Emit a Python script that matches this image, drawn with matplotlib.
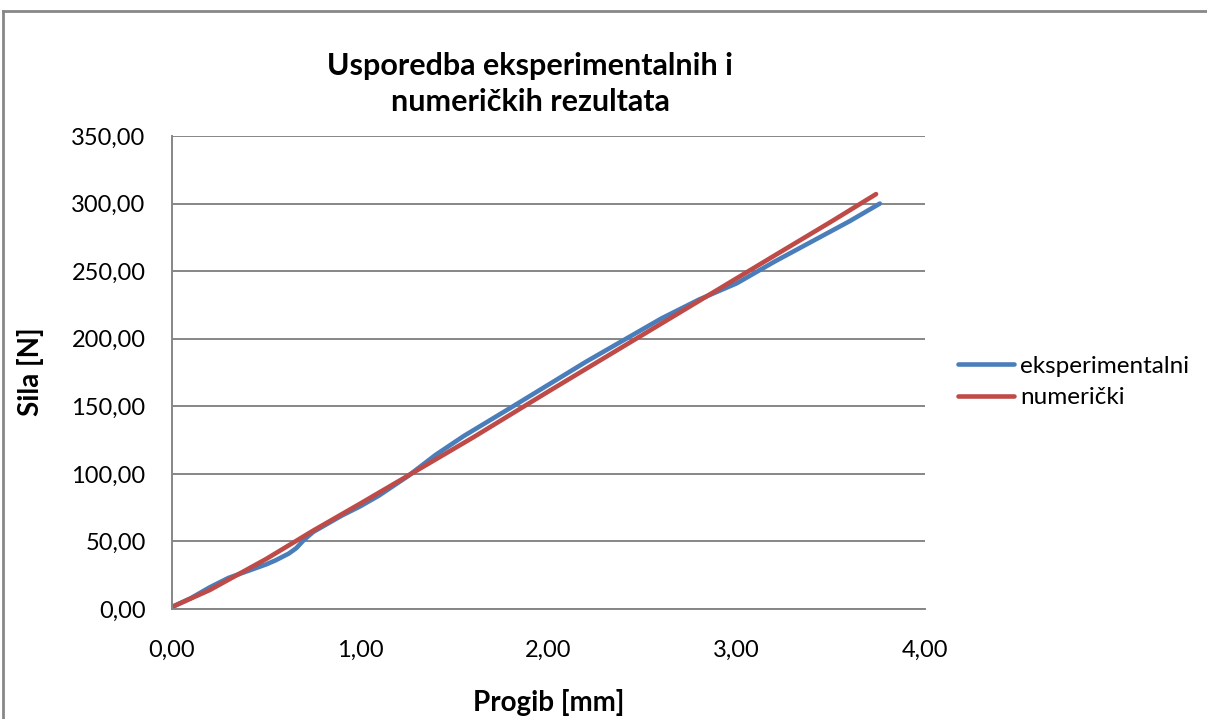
import matplotlib
matplotlib.use("Agg")
import matplotlib.pyplot as plt
from matplotlib.lines import Line2D
from matplotlib.ticker import FuncFormatter

plt.rcParams['font.family'] = ['Lato', 'DejaVu Sans']

# progib [mm] / sila [N]
exp_x = [0.00, 0.10, 0.20, 0.30, 0.40, 0.50, 0.55, 0.62, 0.66, 0.70, 0.75, 0.80,
         0.90, 1.00, 1.10, 1.25, 1.40, 1.55, 1.80, 2.00, 2.20, 2.40, 2.60, 2.70,
         2.80, 3.00, 3.20, 3.40, 3.60, 3.76]
exp_y = [1.5, 8.0, 16.0, 23.0, 28.0, 33.0, 36.0, 41.0, 45.0, 51.0, 57.0, 61.0,
         69.0, 76.0, 84.0, 98.0, 114.0, 128.0, 149.0, 166.0, 183.0, 199.0, 215.0, 222.0,
         229.0, 241.0, 257.0, 272.0, 287.0, 300.0]

num_x = [0.00, 0.20, 0.50, 0.75, 1.00, 1.27, 1.60, 2.00, 2.40, 2.80, 3.20, 3.50, 3.74]
num_y = [1.5, 14.0, 37.0, 58.0, 78.0, 100.0, 127.0, 161.0, 194.5, 228.0, 261.5, 286.5, 307.0]

xticks = [0, 1, 2, 3, 4]
yticks = [0, 50, 100, 150, 200, 250, 300, 350]

W, H = 1207, 719
fig = plt.figure(figsize=(W / 100, H / 100), dpi=100)
ax = fig.add_axes([172 / W, 1 - 609 / H, (925 - 172) / W, (609 - 136) / H])

ax.plot(exp_x, exp_y, color='#4A7EBB', lw=3.3, solid_capstyle='round',
        solid_joinstyle='round', label='eksperimentalni')
ax.plot(num_x, num_y, color='#BE4B48', lw=3.3, solid_capstyle='round',
        solid_joinstyle='round', label='numerički')

ax.set_xlim(0, 4)
ax.set_ylim(0, 350)
ax.set_xticks(xticks)
ax.set_yticks(yticks)
fmt = FuncFormatter(lambda v, p: f"{v:.2f}".replace('.', ','))
ax.xaxis.set_major_formatter(fmt)
ax.yaxis.set_major_formatter(fmt)
ax.tick_params(axis='both', length=0, labelsize=17, colors='black')
ax.tick_params(axis='y', pad=19)
ax.tick_params(axis='x', pad=22)

ax.yaxis.grid(True, color='#868686', lw=1.4)
ax.set_axisbelow(True)
for s in ['top', 'right']:
    ax.spines[s].set_visible(False)
for s in ['left', 'bottom']:
    ax.spines[s].set_color('#868686')
    ax.spines[s].set_linewidth(1.4)

fig.text(530 / W, 1 - 75 / H, 'Usporedba eksperimentalnih i', ha='center',
         va='baseline', fontsize=22, fontweight='bold')
fig.text(530 / W, 1 - 111 / H, 'numeričkih rezultata', ha='center',
         va='baseline', fontsize=22, fontweight='bold')

fig.text(549 / W, 1 - 703 / H, 'Progib [mm]', ha='center', va='center',
         fontsize=20, fontweight='bold')
fig.text(30 / W, 1 - 372 / H, 'Sila [N]', ha='center', va='center',
         rotation=90, fontsize=20, fontweight='bold')

leg = ax.legend(loc='center left', bbox_to_anchor=(958 / W, 1 - 382 / H),
                bbox_transform=fig.transFigure, frameon=False, fontsize=17.5,
                handlelength=2.3, handletextpad=0.25, labelspacing=0.45,
                borderaxespad=0, borderpad=0)

# chart border (top and left edges visible)
fig.add_artist(Line2D([3 / W, 3 / W], [0, 1 - 11 / H], transform=fig.transFigure,
                      color='#888888', lw=2))
fig.add_artist(Line2D([3 / W, 1], [1 - 11 / H, 1 - 11 / H], transform=fig.transFigure,
                      color='#888888', lw=2))

fig.savefig('out.png', dpi=100)
